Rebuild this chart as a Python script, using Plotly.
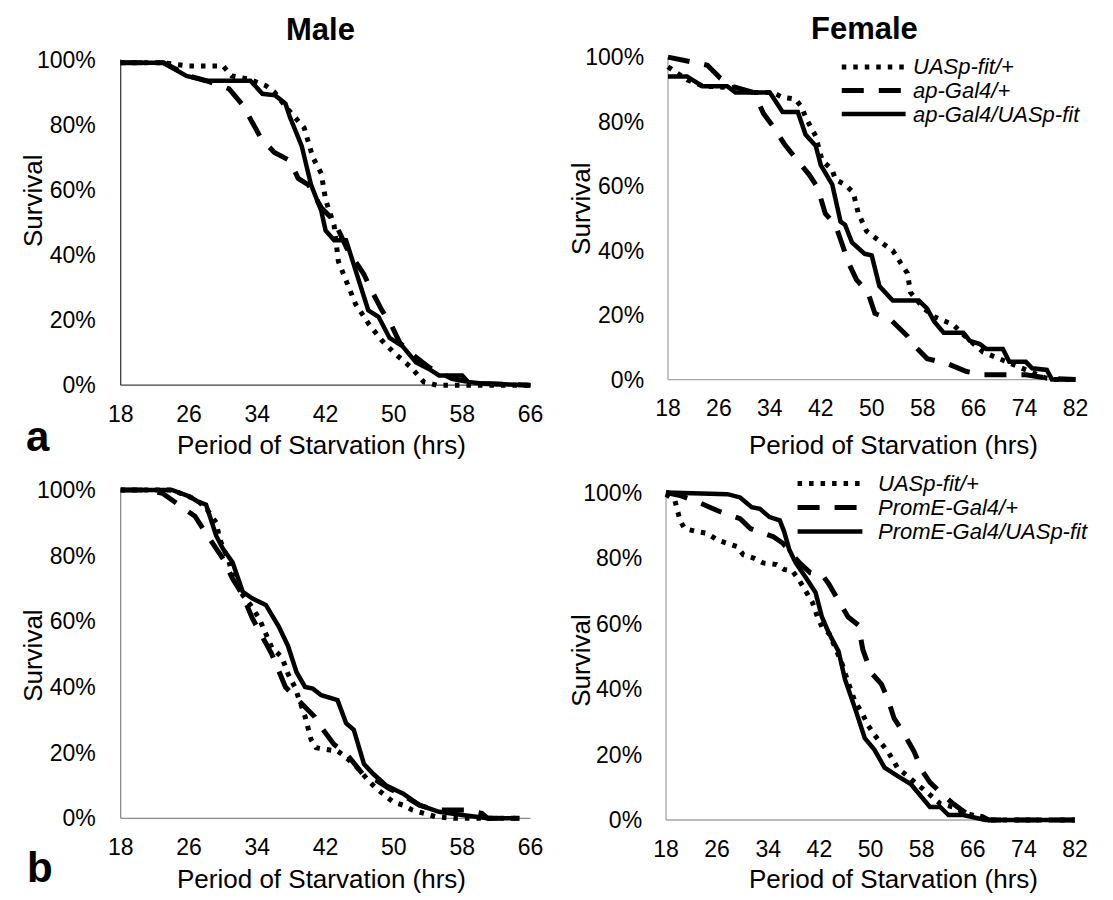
import plotly.graph_objects as go

W, H = 1113, 900
FONT = "Liberation Sans, Arial, sans-serif"

# ---------------- data ----------------
series_names_a = ["UASp-fit/+", "ap-Gal4/+", "ap-Gal4/UASp-fit"]
series_names_b = ["UASp-fit/+", "PromE-Gal4/+", "PromE-Gal4/UASp-fit"]

male_xticks = [18, 26, 34, 42, 50, 58, 66]
female_xticks = [18, 26, 34, 42, 50, 58, 66, 74, 82]
yticks = [0, 0.2, 0.4, 0.6, 0.8, 1.0]

# Panel a - Male
am_uas_h = [18, 23, 26, 30, 31, 33, 35, 36, 37.5, 38.5, 39.5, 40.5, 41.5, 42, 43, 43.5, 44.5, 45.5, 47, 48.5, 50, 52, 53.5, 55, 66]
am_uas_s = [99, 99, 98, 98, 95, 94, 92, 90, 85, 82, 79, 70, 65, 57, 49, 38, 31, 25, 19, 14, 10, 5.5, 1, 0, 0]
am_gal_h = [18, 21, 23, 24.5, 26, 28, 30.7, 32.3, 33.4, 34.4, 36, 37.8, 38.8, 40, 41.5, 43, 44.5, 46.5, 47.4, 48.6, 49.7, 50.7, 52.4, 54.1, 56.8, 60, 66]
am_gal_s = [99, 99, 99, 97, 95, 93.5, 91, 86, 80.5, 76, 71.5, 69, 63.5, 61.5, 54.5, 50.5, 42, 34, 29, 23, 18.5, 13, 9, 5.5, 2, 0.5, 0]
am_exp_h = [18, 23, 25.7, 28, 33.2, 34.6, 36.1, 37.3, 37.8, 39.2, 40.3, 41.5, 42, 43, 44.4, 46.1, 47, 48.2, 49.5, 51, 52.6, 54.1, 55.3, 58, 58.7, 60.3, 66]
am_exp_s = [99, 99, 95, 93.5, 93.5, 89.5, 89, 86.5, 82.5, 73.5, 61.5, 53.5, 47.5, 44.5, 44.5, 31, 23, 21, 14.5, 12, 7, 5, 3, 3, 1, 0.5, 0]

# Panel a - Female
af_uas_h = [18, 21, 23.5, 28.8, 31, 34.5, 36, 38, 39, 39.7, 41.2, 42.2, 43.8, 44.3, 45.8, 47.1, 47.9, 49.2, 51.5, 53.3, 54.6, 55.6, 56.1, 58.2, 59.8, 62.8, 64.9, 67.5, 70, 72.6, 75.2, 77.3, 78.5, 82]
af_uas_s = [97, 93, 91, 90.5, 89, 89, 87.5, 87, 84.5, 81, 75.5, 68, 65, 62, 60.5, 58, 51.5, 46, 42.5, 40, 36, 33, 27, 22, 19.5, 17, 13, 8.5, 6.5, 4.5, 2.5, 0.5, 0, 0]
af_gal_h = [18, 20.6, 24.2, 26.2, 28, 31.5, 33, 34.5, 36.3, 38.1, 40.2, 41.5, 42.7, 44.3, 45.3, 46.4, 47.6, 49.4, 50.5, 53, 55.6, 56.7, 58.7, 61.8, 64.9, 67.5, 74.2, 77.3, 82]
af_gal_s = [100, 99, 97.5, 93.5, 91, 89, 82.5, 78.5, 73, 68.5, 63.5, 59.5, 51.5, 48, 42, 36, 31, 27, 20.5, 18.5, 13.5, 10.5, 6.5, 5, 2.5, 1.5, 1.5, 0.5, 0]
af_exp_h = [18, 21, 23.4, 27.3, 28.6, 34, 36, 38.4, 39.6, 41.2, 42, 43.8, 45.1, 45.8, 46.9, 48.9, 50, 51.2, 53.3, 57.4, 58.7, 59.8, 61.3, 64.4, 65.4, 67, 68, 70.6, 71.6, 74.2, 75.2, 77.5, 78.3, 82]
af_exp_s = [94, 94, 91, 91, 89, 89, 83, 83, 76, 72.5, 66.5, 60.5, 49, 48, 42.5, 39, 38.5, 29, 24.5, 24.5, 22, 18, 14.5, 14.5, 12, 11, 9.5, 9.5, 5.5, 5.5, 3.5, 3, 0, 0]

# Panel b - Male
bm_uas_h = [18, 24, 26.9, 28, 29.2, 29.6, 30.7, 31.1, 32.3, 33.2, 34.2, 35, 35.7, 36.9, 37.6, 38.4, 39.6, 40.3, 40.9, 42, 43.4, 44.2, 45.7, 47.2, 48, 49.9, 51.1, 52.2, 54.9, 57, 64.7]
bm_uas_s = [100, 100, 97, 94.5, 90, 85, 78, 74, 68, 65, 61, 56, 52, 49, 44, 40, 31, 24, 21.5, 21, 20.5, 19, 15.5, 11, 9, 5, 4, 2.5, 0.5, 0, 0]
bm_gal_h = [18, 21, 22.9, 24.6, 26.7, 27.7, 28.8, 30, 31.1, 32.3, 33.4, 34.2, 35.7, 36.5, 37.3, 38.4, 40.7, 41.7, 43, 44.5, 46.5, 48, 49.5, 51.1, 53, 54.9, 58.4, 60.3, 61, 64.7]
bm_gal_s = [100, 100, 99, 96, 92, 88, 84, 79, 73, 68, 61, 57, 50, 45, 40, 37, 31, 27, 22.5, 19.5, 13, 11.5, 9, 7, 4, 2.5, 2.5, 1.5, 0, 0]
bm_exp_h = [18, 24, 26.1, 27, 28, 29.2, 30, 31.1, 32.3, 33.4, 35, 36.5, 37.6, 38.6, 39.6, 40.5, 41.5, 43.4, 44.4, 45.3, 46.5, 47.6, 49.1, 51.1, 53, 55.3, 58, 61, 64.7]
bm_exp_s = [100, 100, 98, 96.5, 95.5, 86, 82, 78, 69, 67, 65, 58.5, 52.5, 44.5, 40, 39.5, 37.5, 36, 29, 27, 16.5, 13.5, 10, 7.5, 4, 2, 1, 0, 0]

# Panel b - Female
bf_uas_h = [18, 19.4, 20.2, 20.9, 23, 24.5, 26, 27.6, 29.1, 30.1, 31.7, 33.2, 35.3, 36.5, 37.8, 38.9, 39.9, 40.9, 41.7, 42.4, 43.5, 45.5, 46.5, 47.6, 48.6, 49.6, 50.6, 52.7, 54.2, 55.8, 57.3, 58.8, 60.9, 62.9, 65, 67, 68, 82]
bf_uas_s = [99.5, 97.5, 91.5, 89, 88, 87.5, 85.5, 84.5, 83.5, 81, 80, 78.5, 78, 76.5, 76, 73, 70, 66.5, 62, 59, 57, 48, 42, 36, 33, 29, 26, 21, 16, 13.5, 11, 8.5, 5, 4, 2, 1, 0, 0]
bf_gal_h = [18, 20.4, 23.7, 26, 29.6, 31.2, 34.8, 36.3, 38.9, 40.6, 42.4, 43.5, 45, 46.5, 48.1, 48.8, 50.1, 51.7, 52.7, 53.7, 55.2, 56.8, 58.1, 59.3, 60.9, 62.9, 65, 67.5, 68.5, 82]
bf_gal_s = [100, 99, 96.5, 94.5, 92, 89, 86.5, 84.5, 78.5, 75.5, 75, 72, 67, 62, 59.5, 52, 45, 41.5, 37, 31, 26.5, 21, 15, 11.5, 8.5, 5, 2, 1, 0, 0]
bf_exp_h = [18, 27.6, 29.6, 31.4, 32.7, 34.2, 35.8, 36.5, 37.3, 38.3, 39.9, 41.4, 42.4, 43.5, 45, 46, 47.6, 49.1, 50.6, 52.2, 54.2, 56.3, 57.8, 59.3, 60.9, 62.2, 64.5, 68, 82]
bf_exp_s = [100, 99.5, 98.5, 95.5, 95, 92.5, 91.5, 88, 82.5, 78.5, 74, 69.5, 62, 57, 51.5, 43, 34, 25, 21.5, 16, 13.5, 11, 7.5, 4, 4, 1.5, 1.5, 0, 0]

# ---------------- styles ----------------
STYLES = [
    dict(color="black", width=5, dash="4.5px,7px"),   # dotted
    dict(color="black", width=5, dash="22px,15px"),   # dashed
    dict(color="black", width=4.5, dash="solid"),     # solid
]

fig = go.Figure()

# panel pixel geometry: (x-pixel of first tick, x-pixel of last tick, y-pixel of 100%, y-pixel of 0%)
panels = [
    dict(ax="", geom=(112.7, 530.0, 52.5, 384.0), xt=male_xticks, axcol="#404040",
         data=[(am_uas_h, am_uas_s), (am_gal_h, am_gal_s), (am_exp_h, am_exp_s)]),
    dict(ax="2", geom=(670.0, 1085.0, 50.0, 378.3), xt=female_xticks, axcol="#a6a6a6",
         data=[(af_uas_h, af_uas_s), (af_gal_h, af_gal_s), (af_exp_h, af_exp_s)]),
    dict(ax="3", geom=(112.7, 530.0, 490.7, 825.0), xt=male_xticks, axcol="#8c8c8c",
         data=[(bm_uas_h, bm_uas_s), (bm_gal_h, bm_gal_s), (bm_exp_h, bm_exp_s)]),
    dict(ax="4", geom=(668.0, 1084.5, 493.3, 826.7), xt=female_xticks, axcol="#a6a6a6",
         data=[(bf_uas_h, bf_uas_s), (bf_gal_h, bf_gal_s), (bf_exp_h, bf_exp_s)]),
]

XPAD = 0.45
YPAD = 0.014
shapes = []
layout_axes = {}
for p in panels:
    x0p, x1p, ytop, ybot = p["geom"]
    xt = p["xt"]
    xs = (x1p - x0p) / (xt[-1] - xt[0])
    dlo = (x0p - XPAD * xs) / W
    dhi = (x1p + XPAD * xs) / W
    ys = (ybot - ytop)
    ylo = 1 - (ybot + YPAD * ys) / H
    yhi = 1 - (ytop - YPAD * ys) / H
    xa = "xaxis" + p["ax"]
    ya = "yaxis" + p["ax"]
    xref = "x" + p["ax"]
    yref = "y" + p["ax"]
    layout_axes[xa] = dict(
        domain=[dlo, dhi], range=[xt[0] - XPAD, xt[-1] + XPAD], anchor=yref,
        tickvals=xt, ticktext=[str(v) for v in xt], showgrid=False, zeroline=False,
        showline=False, ticks="", ticklabelstandoff=8,
        tickfont=dict(family=FONT, size=23, color="black"),
    )
    layout_axes[ya] = dict(
        domain=[ylo, yhi], range=[-YPAD, 1 + YPAD], anchor=xref,
        tickvals=yticks, tickformat=".0%", showgrid=False, zeroline=False,
        showline=False, ticks="", ticklabelstandoff=20,
        tickfont=dict(family=FONT, size=23, color="black"),
    )
    # axis lines
    shapes.append(dict(type="line", xref=xref, yref=yref, x0=xt[0], x1=xt[-1], y0=0, y1=0,
                       line=dict(color=p["axcol"], width=1.3), layer="below"))
    shapes.append(dict(type="line", xref=xref, yref=yref, x0=xt[0], x1=xt[0], y0=0, y1=yticks[-1],
                       line=dict(color=p["axcol"], width=1.3), layer="below"))
    for (h, s), st in zip(p["data"], STYLES):
        fig.add_trace(go.Scatter(
            x=h, y=[v / 100 for v in s], mode="lines", xaxis=xref, yaxis=yref,
            line=dict(color=st["color"], width=st["width"], dash=st["dash"]),
            showlegend=False, hoverinfo="skip",
        ))

annotations = []

def txt(text, x, y, size, bold=False, italic=False, angle=0, xanchor="center", yanchor="middle"):
    if bold:
        text = "<b>" + text + "</b>"
    if italic:
        text = "<i>" + text + "</i>"
    annotations.append(dict(text=text, x=x / W, y=1 - y / H, xref="paper", yref="paper",
                            showarrow=False, xanchor=xanchor, yanchor=yanchor, textangle=angle,
                            font=dict(family=FONT, size=size, color="black")))

# panel titles
txt("Male", 316, 22, 31, bold=True)
txt("Female", 870, 21, 31, bold=True)
# panel letters
txt("a", 29, 436, 42, bold=True)
txt("b", 31, 875, 42, bold=True)
# axis titles
for yc in (445, 887):
    txt("Period of Starvation (hrs)", 317, yc, 26)
    txt("Period of Starvation (hrs)", 900, yc, 26)
txt("Survival", 24, 197, 26, angle=-90)
txt("Survival", 582, 205, 26, angle=-90)
txt("Survival", 24, 660, 26, angle=-90)
txt("Survival", 582, 665, 26, angle=-90)

# legends (drawn manually: long line samples like the original)
def legend(names, x0, x1, xtext, ys):
    for name, st, yy in zip(names, STYLES, ys):
        shapes.append(dict(type="line", xref="paper", yref="paper",
                           x0=x0 / W, x1=x1 / W, y0=1 - yy / H, y1=1 - yy / H,
                           line=dict(color="black", width=st["width"], dash=st["dash"])))
        txt(name, xtext, yy, 22, italic=True, xanchor="left")

legend(series_names_a, 847, 912, 917, [60, 84, 108])
legend(series_names_b, 802, 868, 882, [484, 508.5, 533])

fig.update_layout(
    width=W, height=H, autosize=False,
    margin=dict(l=0, r=0, t=0, b=0),
    paper_bgcolor="white", plot_bgcolor="white",
    shapes=shapes, annotations=annotations,
    showlegend=False,
    **layout_axes,
)

fig.write_html("out.html")
